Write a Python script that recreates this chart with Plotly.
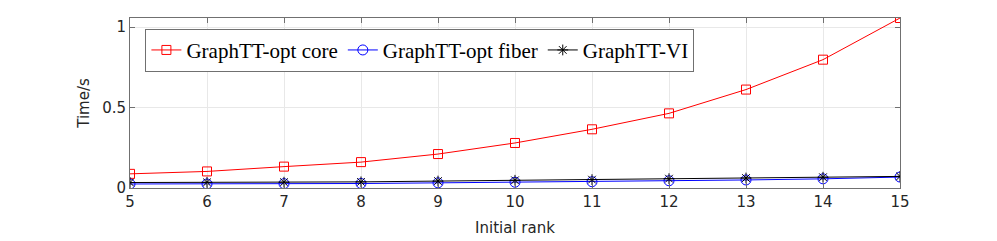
import plotly.graph_objects as go

ranks = [5, 6, 7, 8, 9, 10, 11, 12, 13, 14, 15]
core = [0.088, 0.103, 0.133, 0.161, 0.211, 0.280, 0.365, 0.464, 0.612, 0.798, 1.057]
fiber = [0.025, 0.025, 0.027, 0.028, 0.032, 0.036, 0.039, 0.045, 0.050, 0.057, 0.068]
vi = [0.034, 0.035, 0.036, 0.038, 0.043, 0.048, 0.052, 0.058, 0.062, 0.067, 0.072]
names = ["GraphTT-opt core", "GraphTT-opt fiber", "GraphTT-VI"]
x_ticks = [5, 6, 7, 8, 9, 10, 11, 12, 13, 14, 15]
y_ticks = [0, 0.5, 1]
y_tick_text = ["0", "0.5", "1"]

fig = go.Figure()
fig.add_trace(go.Scatter(x=ranks, y=core, name=names[0], mode="lines+markers",
                         line=dict(color="#ff0000", width=1),
                         marker=dict(symbol="square-open", size=9, color="#ff0000", line=dict(width=1))))
fig.add_trace(go.Scatter(x=ranks, y=fiber, name=names[1], mode="lines+markers",
                         line=dict(color="#0000ff", width=1),
                         marker=dict(symbol="circle-open", size=10, color="#0000ff", line=dict(width=1))))
fig.add_trace(go.Scatter(x=ranks, y=vi, name=names[2], mode="lines+markers",
                         line=dict(color="#000000", width=1),
                         marker=dict(symbol="asterisk-open", size=9, color="#000000", line=dict(width=1))))

tick_font = dict(family="DejaVu Sans", size=15, color="#262626")
axis_common = dict(showline=True, linecolor="#707070", linewidth=1, mirror="ticks",
                   ticks="inside", ticklen=5, tickcolor="#707070",
                   showgrid=True, gridcolor="#e8e8e8", gridwidth=1, zeroline=False,
                   tickfont=tick_font)

fig.update_layout(
    width=997, height=241,
    margin=dict(l=122, r=105, t=10, b=61),
    paper_bgcolor="white", plot_bgcolor="white",
    showlegend=True,
    legend=dict(orientation="h", x=0.02, y=0.81, xanchor="left", yanchor="middle",
                bordercolor="#707070", borderwidth=1, bgcolor="white",
                font=dict(family="Liberation Serif", size=21, color="#000000"),
                itemwidth=30, tracegroupgap=0),
    xaxis=dict(range=[5, 15], tickvals=x_ticks,
               title=dict(text="Initial rank", font=dict(family="DejaVu Sans", size=15, color="#262626"), standoff=12),
               **axis_common),
    yaxis=dict(range=[0, 1.057], tickvals=y_ticks, ticktext=y_tick_text,
               title=dict(text="Time/s", font=dict(family="DejaVu Sans", size=15, color="#262626"), standoff=8),
               **axis_common),
)

fig.write_html("out.html")
